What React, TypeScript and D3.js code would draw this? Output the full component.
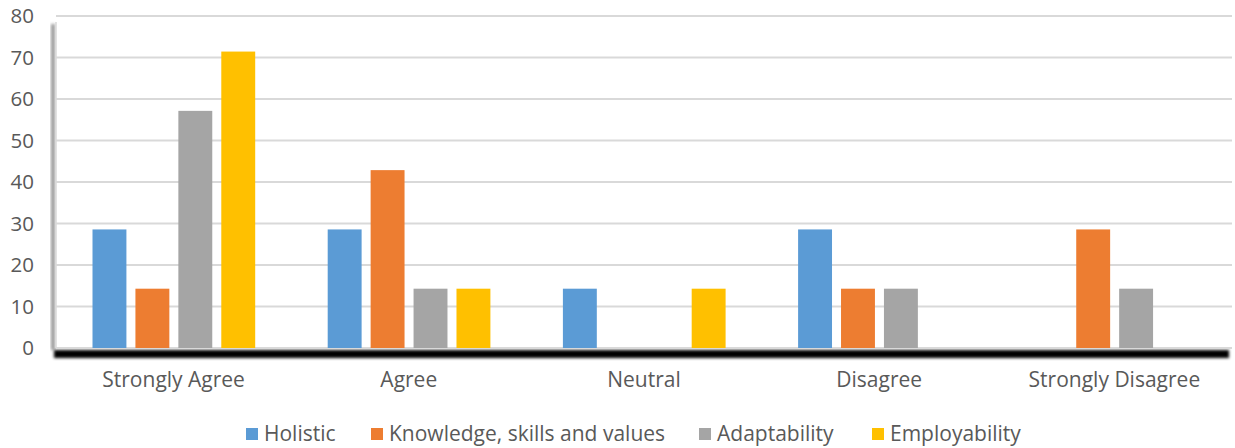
import React, { useRef, useEffect } from 'react'
import * as d3 from 'd3'

// 응답 범주 (x축)
const categories = ['Strongly Agree', 'Agree', 'Neutral', 'Disagree', 'Strongly Disagree']

// 시리즈 이름과 색
const seriesNames = ['Holistic', 'Knowledge, skills and values', 'Adaptability', 'Employability']
const seriesColors = ['#5B9BD5', '#ED7D31', '#A5A5A5', '#FFC000']

// 시리즈별 값 (범주 순서대로, %)
const holistic = [28.57, 28.57, 14.29, 28.57, 0]
const knowledge = [14.29, 42.86, 0, 14.29, 28.57]
const adaptability = [57.14, 14.29, 0, 14.29, 14.29]
const employability = [71.43, 14.29, 14.29, 0, 0]

const yTicks = [0, 10, 20, 30, 40, 50, 60, 70, 80]

const W = 1235
const H = 448

const App: React.FC = () => {
  const svgRef = useRef<SVGSVGElement>(null)

  useEffect(() => {
    if (!svgRef.current) return
    const svg = d3.select(svgRef.current)
    svg.selectAll('*').remove()

    const font = '"Open Sans", "Noto Sans", sans-serif'
    const textColor = '#595959'
    const left = 56
    const right = 1232
    const top = 16
    const bottom = 348

    const values = [holistic, knowledge, adaptability, employability]

    const x0 = d3.scaleBand().domain(categories).range([left, right]).paddingInner(0).paddingOuter(0)
    const x1 = d3.scaleBand<number>()
      .domain(d3.range(seriesNames.length))
      .range([36.5, x0.bandwidth() - 36])
      .paddingInner(0.21)
    const y = d3.scaleLinear().domain([0, 80]).range([bottom, top])

    // 그림자 필터
    const defs = svg.append('defs')
    const blur = defs.append('filter').attr('id', 'blur')
      .attr('x', '-5%').attr('y', '-100%').attr('width', '110%').attr('height', '300%')
    blur.append('feGaussianBlur').attr('stdDeviation', 1.6)

    // 격자선
    svg.append('g')
      .selectAll('line')
      .data(yTicks.filter(t => t > 0))
      .enter()
      .append('line')
      .attr('x1', left)
      .attr('x2', right)
      .attr('y1', d => y(d))
      .attr('y2', d => y(d))
      .attr('stroke', '#D9D9D9')
      .attr('stroke-width', 2)

    // 왼쪽 / 아래쪽 그림자
    svg.append('rect')
      .attr('x', left - 5).attr('y', top + 8)
      .attr('width', 4).attr('height', bottom - top - 6)
      .attr('fill', '#9a9a9a')
      .attr('filter', 'url(#blur)')
    svg.append('rect')
      .attr('x', left - 2).attr('y', bottom + 2)
      .attr('width', right - left - 1).attr('height', 8)
      .attr('fill', '#000')
      .attr('filter', 'url(#blur)')

    // 플롯 테두리
    svg.append('line')
      .attr('x1', left).attr('x2', left)
      .attr('y1', top + 6).attr('y2', bottom)
      .attr('stroke', '#D9D9D9').attr('stroke-width', 1.5)
    svg.append('line')
      .attr('x1', left).attr('x2', right)
      .attr('y1', bottom).attr('y2', bottom)
      .attr('stroke', '#D9D9D9').attr('stroke-width', 2)

    // 막대
    const groups = svg.append('g')
      .selectAll('g')
      .data(categories)
      .enter()
      .append('g')
      .attr('transform', d => `translate(${x0(d)},0)`)

    groups.selectAll('rect')
      .data((_, ci) => values.map((s, si) => ({ si, v: s[ci] })).filter(d => d.v > 0))
      .enter()
      .append('rect')
      .attr('x', d => x1(d.si) as number)
      .attr('width', x1.bandwidth())
      .attr('y', d => y(d.v))
      .attr('height', d => bottom - y(d.v))
      .attr('fill', d => seriesColors[d.si])

    // y축 눈금 라벨
    svg.append('g')
      .selectAll('text')
      .data(yTicks)
      .enter()
      .append('text')
      .attr('x', 34)
      .attr('y', d => y(d))
      .attr('dy', '0.36em')
      .attr('text-anchor', 'end')
      .attr('font-family', font)
      .attr('font-size', 20.5)
      .attr('fill', textColor)
      .text(d => d)

    // x축 라벨
    svg.append('g')
      .selectAll('text')
      .data(categories)
      .enter()
      .append('text')
      .attr('x', d => (x0(d) as number) + x0.bandwidth() / 2)
      .attr('y', 387)
      .attr('text-anchor', 'middle')
      .attr('font-family', font)
      .attr('font-size', 21)
      .attr('fill', textColor)
      .text(d => d)

    // 범례
    const legendX = [246, 371, 699, 872]
    const legend = svg.append('g')
      .selectAll('g')
      .data(seriesNames)
      .enter()
      .append('g')
      .attr('transform', (_, i) => `translate(${legendX[i]},0)`)
    legend.append('rect')
      .attr('x', 0).attr('y', 428)
      .attr('width', 12).attr('height', 12)
      .attr('fill', (_, i) => seriesColors[i])
    legend.append('text')
      .attr('x', 18)
      .attr('y', 441)
      .attr('font-family', font)
      .attr('font-size', 21)
      .attr('fill', textColor)
      .text(d => d)
  }, [])

  return (
    <div style={{ position: 'absolute', left: 0, top: 0, width: W, height: H, background: '#fff' }}>
      <svg ref={svgRef} width={W} height={H} style={{ display: 'block' }} />
    </div>
  )
}

export default App
